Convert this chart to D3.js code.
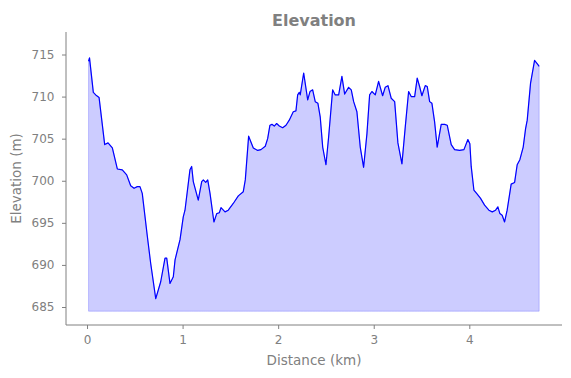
<!DOCTYPE html>
<html><head><meta charset="utf-8">
<script src="https://cdn.jsdelivr.net/npm/d3@7"></script>
<style>body{margin:0;background:#fff}</style>
</head><body><svg id="c" width="571" height="378"></svg>
<script>
const distance = [0.016,0.026,0.066,0.091,0.126,0.185,0.220,0.265,0.317,0.369,0.415,0.457,0.492,0.526,0.554,0.578,0.631,0.666,0.719,0.771,
0.816,0.834,0.868,0.903,0.921,0.973,1.007,1.025,1.077,1.095,1.112,1.164,1.200,1.217,1.242,1.263,1.287,1.328,1.357,1.384,1.402,1.444,1.478,1.530,1.583,
1.635,1.656,1.691,1.715,1.740,1.786,1.820,1.865,1.890,1.914,1.935,1.959,1.984,2.012,2.047,2.082,2.116,2.158,2.186,2.204,2.221,2.231,2.267,2.309,2.333,2.361,2.388,
2.416,2.440,2.466,2.500,2.528,2.570,2.597,2.633,2.667,2.696,2.737,2.765,2.790,2.824,2.859,2.894,2.929,2.957,2.981,3.016,3.051,3.093,3.120,3.149,3.183,
3.219,3.253,3.295,3.330,3.365,3.392,3.428,3.455,3.480,3.504,3.539,3.560,3.585,3.609,3.637,3.664,3.706,3.742,3.769,3.811,3.846,3.899,3.944,
3.985,4.006,4.020,4.048,4.083,4.118,4.160,4.205,4.240,4.275,4.299,4.320,4.344,4.369,4.396,4.438,4.474,4.501,4.529,4.564,4.589,4.606,4.641,4.683,4.718,4.731];
const elevation = [714.2,714.6,710.5,710.2,709.9,704.3,704.5,703.9,701.4,701.3,700.7,699.4,699.1,699.3,699.3,698.5,693.4,690.2,686.0,688.0,
690.8,690.8,687.8,688.6,690.6,693.0,695.7,696.5,701.3,701.7,699.9,697.7,699.9,700.1,699.8,700.1,698.5,695.1,696.1,696.2,696.8,696.3,696.5,697.3,698.2,
698.7,700.1,705.3,704.6,703.9,703.6,703.7,704.1,705.0,706.6,706.7,706.5,706.8,706.5,706.3,706.6,707.2,708.2,708.3,710.2,710.5,710.2,712.8,709.6,710.6,710.8,709.4,
709.2,707.6,704.0,701.9,705.2,710.8,710.2,710.2,712.4,710.3,711.1,710.8,709.4,708.2,704.0,701.6,705.6,710.2,710.6,710.2,711.8,710.1,711.1,711.3,709.8,
709.4,704.5,702.0,706.4,710.6,710.0,710.0,712.2,711.2,710.1,711.3,711.2,709.4,709.2,707.0,704.0,706.7,706.7,706.6,704.3,703.7,703.6,703.7,
704.9,704.4,701.7,698.9,698.4,697.9,697.1,696.5,696.3,696.5,696.9,696.1,695.9,695.1,696.5,699.6,699.8,701.9,702.5,704.0,706.2,707.2,711.6,714.3,713.8,713.6];
const baseline = 684.5;
const xTicks = [0,1,2,3,4];
const yTicks = [685,690,695,700,705,710,715];
const title = "Elevation";
const xLabel = "Distance (km)";
const yLabel = "Elevation (m)";

const data = distance.map((d,i)=>({d, e: elevation[i]}));
const svg = d3.select("#c");
const L=66, R=562, T=32, B=325;
const grey = "#808080";
const x = d3.scaleLinear().domain([-0.22,4.97]).range([L,R]);
const y = d3.scaleLinear().domain([685,715]).range([307,54.5]);

svg.append("path").datum(data)
  .attr("d", d3.area().x(p=>x(p.d)).y0(y(baseline)).y1(p=>y(p.e)))
  .attr("fill","rgba(0,0,255,0.2)").attr("stroke","rgba(0,0,255,0.2)").attr("stroke-width",1);
svg.append("path").datum(data)
  .attr("d", d3.line().x(p=>x(p.d)).y(p=>y(p.e)))
  .attr("fill","none").attr("stroke","#0000ff").attr("stroke-width",1.2).attr("stroke-linejoin","round");

const xa = svg.append("g").attr("transform",`translate(0,${B})`)
  .call(d3.axisBottom(x).tickValues(xTicks).tickFormat(d3.format("d")).tickSizeOuter(0).tickSize(4).tickPadding(6));
const ya = svg.append("g").attr("transform",`translate(${L},0)`)
  .call(d3.axisLeft(y).tickValues(yTicks).tickSizeOuter(0).tickSize(4).tickPadding(7.5));
[xa,ya].forEach(g=>{
  g.select(".domain").attr("stroke",grey).attr("stroke-width",1);
  g.selectAll(".tick line").attr("stroke",grey);
  g.selectAll(".tick text").attr("fill",grey).attr("font-family","DejaVu Sans").attr("font-size",12);
});
xa.select(".domain").attr("d",`M${L},0H${R}`);
ya.select(".domain").attr("d",`M0,${T}V${B}`);

svg.append("text").attr("x",(L+R)/2).attr("y",25.5).attr("text-anchor","middle")
  .attr("font-family","DejaVu Sans").attr("font-weight","bold").attr("font-size",16).attr("fill",grey).text(title);
svg.append("text").attr("x",(L+R)/2).attr("y",364.5).attr("text-anchor","middle")
  .attr("font-family","DejaVu Sans").attr("font-size",13.5).attr("fill",grey).text(xLabel);
svg.append("text").attr("transform",`translate(21,${(T+B)/2}) rotate(-90)`).attr("text-anchor","middle")
  .attr("font-family","DejaVu Sans").attr("font-size",13.5).attr("fill",grey).text(yLabel);
</script></body></html>
